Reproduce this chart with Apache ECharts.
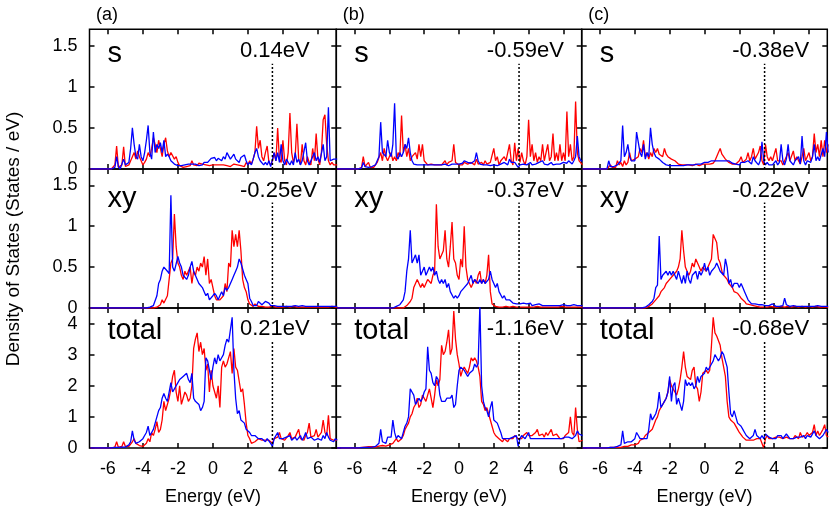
<!DOCTYPE html>
<html><head><meta charset="utf-8">
<script src="https://cdn.jsdelivr.net/npm/echarts@6/dist/echarts.min.js"></script>
<style>html,body{margin:0;padding:0;background:#fff}#c{width:830px;height:510px}</style>
</head><body><div id="c"></div>
<script>
// Energy grid of every series: starts at E_START, one value per E_STEP
const E_START = -7.0, E_STEP = 0.1;
const columnLabels = ['(a)', '(b)', '(c)'];
const rowLabels = ['s', 'xy', 'total'];
const shiftLabels = [
  ['0.14eV', '-0.25eV', '0.21eV'],
  ['-0.59eV', '-0.37eV', '-1.16eV'],
  ['-0.38eV', '-0.22eV', '-0.68eV']
];
const fermiEnergy = [3.4, 3.45, 3.45];
const fermiTop = [1.28, 1.29, 3.42];
const xTicks = [-6, -4, -2, 0, 2, 4, 6];
const yTicksOrbital = [0, 0.5, 1, 1.5];
const yTicksTotal = [0, 1, 2, 3, 4];
const yMax = [1.7, 1.7, 4.5];
const xMin = -7.05, xMax = 7.05;

// ---- column (a) ----
const sRedA = [
0,0,0,0,0,0,0,0,0,0,
0,0,0,0,0.05,0.28,0.02,0,0.05,0.27,
0.03,0.02,0.05,0.1,0.15,0.2,0.12,0.22,0.15,0.1,
0.05,0.08,0.12,0.2,0.15,0.25,0.38,0.3,0.2,0.35,
0.25,0.15,0.3,0.38,0.22,0.15,0.2,0.2,0.12,0.15,
0.08,0.04,0.03,0.02,0.04,0.03,0.05,0.04,0.1,0.05,
0.06,0.04,0.07,0.05,0.06,0.04,0.05,0.06,0.04,0.03,
0.05,0.04,0.05,0.06,0.05,0.04,0.05,0.03,0.04,0.05,
0.03,0.04,0.06,0.04,0.05,0.07,0.04,0.05,0.03,0.08,
0.05,0.1,0.06,0.12,0.2,0.52,0.25,0.35,0.15,0.1,
0.2,0.28,0.08,0.05,0.1,0.2,0.1,0.5,0.12,0.08,
0.35,0.1,0.05,0.2,0.68,0.2,0.08,0.15,0.55,0.12,
0.05,0.3,0.1,0.05,0.15,0.08,0.05,0.25,0.1,0.43,
0.12,0.05,0.2,0.6,0.66,0.3,0.1,0.05,0.08,0.05,
0.06,0.05];
const sBlueA = [
0,0,0,0,0,0,0,0,0,0,
0,0,0,0,0.02,0.15,0.03,0,0.02,0.12,
0.05,0.03,0.08,0.25,0.5,0.3,0.15,0.12,0.3,0.15,
0.1,0.2,0.35,0.53,0.2,0.12,0.45,0.2,0.3,0.25,
0.32,0.2,0.35,0.15,0.18,0.15,0.1,0.08,0.06,0.05,
0.04,0.05,0.04,0.05,0.05,0.04,0.06,0.05,0.06,0.05,
0.06,0.05,0.04,0.06,0.05,0.08,0.1,0.08,0.1,0.13,
0.12,0.14,0.1,0.13,0.12,0.1,0.15,0.12,0.2,0.16,
0.12,0.15,0.18,0.12,0.1,0.08,0.14,0.12,0.17,0.1,
0.05,0.08,0.05,0.12,0.2,0.25,0.15,0.1,0.12,0.05,
0.08,0.05,0.1,0.03,0.02,0.2,0.1,0.2,0.08,0.3,
0.1,0.05,0.12,0.08,0.05,0.1,0.05,0.2,0.08,0.12,
0.05,0.1,0.08,0.32,0.1,0.05,0.1,0.08,0.2,0.1,
0.15,0.08,0.1,0.3,0.1,0.15,0.75,0.1,0.08,0.12,
0.1,0.12];
const xyRedA = [
0,0,0,0,0,0,0,0,0,0,
0,0,0,0,0,0,0,0,0,0,
0,0,0,0,0,0,0,0,0,0,
0,0,0,0,0,0,0,0,0.01,0.02,
0.04,0.1,0.06,0.08,0.15,0.35,0.55,0.6,1.15,0.75,
0.55,0.5,0.4,0.35,0.45,0.4,0.42,0.5,0.3,0.45,
0.4,0.5,0.45,0.55,0.5,0.63,0.4,0.6,0.3,0.35,
0.25,0.15,0.1,0.08,0.1,0.12,0.15,0.3,0.2,0.55,
0.5,0.95,0.75,0.9,0.75,0.95,0.7,0.35,0.25,0.2,
0.1,0.05,0.03,0.02,0.05,0.03,0.02,0.03,0.02,0.01,
0.01,0.02,0.01,0.01,0.02,0.01,0.01,0.02,0.01,0.01,
0.01,0.01,0.02,0.01,0.01,0.01,0.02,0.01,0.01,0.01,
0.01,0.02,0.01,0.01,0.01,0.02,0.01,0.01,0.01,0.02,
0.01,0.01,0.01,0.02,0.01,0.01,0.01,0.01,0.02,0.01,
0.01,0.01];
const xyBlueA = [
0,0,0,0,0,0,0,0,0,0,
0,0,0,0,0,0,0,0,0,0,
0,0,0,0,0,0,0,0,0,0,
0,0,0,0,0.01,0.02,0.03,0.05,0.15,0.3,
0.35,0.45,0.5,0.48,0.45,0.42,1.38,0.5,0.45,0.45,
0.63,0.55,0.5,0.4,0.4,0.35,0.4,0.5,0.57,0.45,
0.45,0.35,0.3,0.3,0.25,0.2,0.15,0.18,0.1,0.12,
0.15,0.18,0.15,0.1,0.12,0.2,0.15,0.25,0.22,0.25,
0.3,0.35,0.4,0.45,0.5,0.6,0.55,0.55,0.4,0.35,
0.3,0.12,0.08,0.03,0.05,0.03,0.08,0.06,0.04,0.05,
0.08,0.1,0.06,0.03,0.02,0.03,0.05,0.02,0.04,0.02,
0.03,0.02,0.04,0.02,0.03,0.02,0.02,0.03,0.02,0.02,
0.02,0.03,0.02,0.02,0.03,0.02,0.02,0.02,0.03,0.02,
0.02,0.02,0.03,0.02,0.02,0.02,0.03,0.02,0.02,0.02,
0.02,0.02];
const totRedA = [
0,0,0,0,0,0,0,0,0,0,
0,0,0,0,0.03,0.2,0.02,0.03,0.05,0.2,
0.05,0.03,0.05,0.1,0.2,0.3,0.15,0.1,0.08,0.05,
0.05,0.1,0.15,0.3,0.2,0.5,0.4,0.6,0.85,0.5,
0.6,0.9,1.5,1.2,1.4,1.6,1.9,2.3,2.5,1.8,
1.5,2.0,1.4,1.6,1.8,1.7,1.5,1.6,2.0,3.2,
3.5,3.7,3.1,3.4,3.0,3.2,2.5,2.7,1.8,2.5,
2.0,1.8,1.6,2.0,1.3,2.6,2.8,2.6,2.7,2.7,
3.1,2.4,3.2,2.6,2.5,2.5,1.8,1.9,1.4,0.8,
0.4,0.3,0.15,0.2,0.2,0.25,0.3,0.35,0.25,0.2,
0.25,0.3,0.25,0.2,0.15,0.3,0.25,0.35,0.5,0.3,
0.35,0.25,0.3,0.4,0.5,0.3,0.25,0.35,0.3,0.6,
0.3,0.35,0.25,0.4,0.5,0.8,0.35,0.3,0.4,0.6,
0.35,0.3,0.5,0.9,0.5,0.4,1.05,0.3,0.35,0.25,
0.3,0.25];
const totBlueA = [
0,0,0,0,0,0,0,0,0,0,
0,0,0,0,0.02,0.05,0.02,0.01,0.03,0.05,
0.03,0.05,0.1,0.2,0.55,0.25,0.15,0.2,0.2,0.25,
0.3,0.4,0.5,0.7,0.4,0.5,0.6,0.8,1.0,1.2,
1.3,1.6,1.75,1.6,1.5,1.8,2.1,1.8,1.9,2.0,
2.1,2.2,2.2,2.3,2.3,2.4,2.2,2.1,2.4,1.6,
1.5,1.5,1.4,1.2,1.3,1.5,2.9,2.8,2.5,2.2,
2.6,2.9,2.7,3.0,2.8,2.9,3.0,3.3,3.5,3.4,
3.8,4.2,2.5,1.6,1.1,1.2,0.9,0.9,0.8,0.6,
0.6,0.5,0.4,0.35,0.4,0.35,0.3,0.35,0.3,0.25,
0.2,0.3,0.25,0.15,0.05,0.3,0.25,0.5,0.3,0.35,
0.3,0.25,0.35,0.3,0.4,0.25,0.3,0.35,0.25,0.3,
0.4,0.25,0.35,0.5,0.3,0.25,0.35,0.3,0.25,0.3,
0.3,0.35,0.25,0.4,0.3,0.5,0.35,0.25,0.3,0.2,
0.3,0.25];

// ---- column (b) ----
const sRedB = [
0,0,0,0,0,0,0,0,0,0,
0,0,0,0,0.02,0.15,0.03,0.02,0.08,0.02,
0.03,0.02,0.05,0.08,0.1,0.2,0.1,0.25,0.15,0.1,
0.12,0.2,0.1,0.15,0.1,0.2,0.15,0.65,0.2,0.3,
0.15,0.25,0.1,0.15,0.15,0.2,0.12,0.3,0.15,0.3,
0.1,0.1,0.05,0.05,0.06,0.04,0.05,0.07,0.05,0.04,
0.05,0.06,0.1,0.05,0.08,0.06,0.1,0.3,0.08,0.1,
0.05,0.06,0.05,0.08,0.1,0.06,0.05,0.08,0.06,0.05,
0.12,0.06,0.05,0.08,0.05,0.1,0.06,0.05,0.08,0.06,
0.25,0.1,0.15,0.05,0.1,0.08,0.15,0.1,0.12,0.3,
0.1,0.05,0.32,0.1,0.25,0.08,0.2,0.1,0.05,0.15,
0.6,0.15,0.3,0.1,0.2,0.08,0.15,0.1,0.3,0.1,
0.08,0.3,0.1,0.15,0.43,0.1,0.2,0.1,0.3,0.1,
0.2,0.1,0.7,0.15,0.3,0.1,0.15,0.82,0.2,0.1,
0.1,0.05];
const sBlueB = [
0,0,0,0,0,0,0,0,0,0,
0,0,0,0,0.01,0.08,0.03,0.01,0.02,0.03,
0.03,0.02,0.05,0.1,0.15,0.57,0.2,0.2,0.15,0.35,
0.2,0.15,0.3,0.8,0.15,0.12,0.2,0.15,0.2,0.3,
0.25,0.38,0.2,0.1,0.06,0.05,0.05,0.04,0.05,0.06,
0.05,0.04,0.05,0.04,0.05,0.04,0.05,0.06,0.05,0.04,
0.05,0.04,0.06,0.05,0.04,0.05,0.06,0.05,0.06,0.07,
0.06,0.08,0.07,0.1,0.12,0.08,0.06,0.07,0.06,0.1,
0.2,0.1,0.06,0.05,0.05,0.06,0.05,0.05,0.04,0.05,
0.05,0.06,0.04,0.05,0.06,0.05,0.08,0.06,0.05,0.12,
0.08,0.06,0.08,0.1,0.02,0.05,0.05,0.06,0.07,0.05,
0.06,0.08,0.05,0.07,0.06,0.05,0.08,0.06,0.1,0.06,
0.07,0.05,0.06,0.08,0.05,0.07,0.06,0.08,0.06,0.07,
0.08,0.06,0.07,0.1,0.08,0.06,0.1,0.15,0.4,0.15,
0.1,0.1];
const xyRedB = [
0,0,0,0,0,0,0,0,0,0,
0,0,0,0,0,0,0,0,0,0,
0,0,0,0,0,0,0,0,0,0,
0,0,0,0,0,0,0,0,0,0.02,
0.03,0.05,0.08,0.12,0.25,0.25,0.35,0.3,0.25,0.3,
0.25,0.25,0.35,0.35,0.3,0.4,0.45,1.27,0.75,0.6,
0.6,0.7,0.95,0.6,0.5,0.75,1.05,0.6,0.55,0.4,
0.35,0.6,0.5,1.0,0.5,0.35,0.3,0.25,0.3,0.35,
0.3,0.4,0.45,0.3,0.35,0.3,0.4,0.65,0.2,0.05,
0.03,0.02,0.02,0.01,0.02,0.01,0.01,0.02,0.01,0.01,
0.01,0.02,0.01,0.01,0.02,0.01,0.01,0.01,0.02,0.01,
0.01,0.01,0.02,0.01,0.01,0.02,0.01,0.01,0.01,0.01,
0.02,0.01,0.01,0.01,0.02,0.01,0.01,0.01,0.01,0.02,
0.01,0.01,0.02,0.01,0.01,0.01,0.02,0.01,0.01,0.01,
0.01,0.01];
const xyBlueB = [
0,0,0,0,0,0,0,0,0,0,
0,0,0,0,0,0,0,0,0,0,
0,0,0,0,0,0,0,0,0,0,
0,0,0,0.01,0.02,0.03,0.04,0.05,0.1,0.2,
0.45,0.6,0.95,0.55,0.6,0.65,0.55,0.65,0.4,0.45,
0.5,0.4,0.45,0.5,0.45,0.5,0.4,0.45,0.35,0.3,
0.35,0.3,0.35,0.25,0.3,0.2,0.2,0.12,0.15,0.12,
0.15,0.2,0.2,0.25,0.25,0.3,0.3,0.4,0.3,0.35,
0.35,0.3,0.35,0.3,0.35,0.3,0.3,0.35,0.45,0.35,
0.3,0.25,0.3,0.2,0.2,0.12,0.15,0.1,0.08,0.1,
0.1,0.06,0.08,0.05,0.04,0.05,0.04,0.06,0.04,0.05,
0.04,0.06,0.03,0.05,0.04,0.03,0.05,0.04,0.03,0.04,
0.03,0.04,0.03,0.05,0.03,0.04,0.03,0.04,0.03,0.03,
0.04,0.03,0.03,0.04,0.03,0.03,0.04,0.03,0.03,0.03,
0.03,0.03];
const totRedB = [
0,0,0,0,0,0,0,0,0,0,
0,0,0,0,0.02,0.05,0.03,0.02,0.04,0.05,
0.04,0.05,0.03,0.05,0.06,0.05,0.08,0.05,0.06,0.05,
0.1,0.05,0.15,0.2,0.3,0.2,0.25,0.3,0.4,0.6,
0.7,0.8,1.0,1.1,1.3,1.4,1.6,1.3,1.4,1.7,
1.6,1.5,1.7,1.9,1.6,1.3,1.7,2.2,2.0,2.2,
3.3,3.0,3.1,3.4,3.8,3.0,3.2,4.4,3.5,3.0,
2.7,2.3,2.5,2.6,2.5,2.4,2.6,2.9,2.8,2.9,
2.8,2.6,2.3,1.5,1.4,1.2,1.3,1.1,0.9,0.7,
0.5,0.4,0.35,0.3,0.25,0.2,0.3,0.25,0.2,0.3,
0.25,0.3,0.4,0.35,0.3,0.35,0.3,0.4,0.35,0.5,
0.4,0.35,0.4,0.35,0.5,0.6,0.4,0.35,0.45,0.35,
0.5,0.4,0.35,0.6,0.4,0.35,0.45,0.4,0.3,0.35,
0.3,0.4,0.35,0.5,1.0,0.5,0.4,1.3,0.6,0.2,
0.2,0.25];
const totBlueB = [
0,0,0,0,0,0,0,0,0,0,
0,0,0,0,0.01,0.02,0.02,0.01,0.02,0.03,
0.03,0.02,0.05,0.1,0.15,0.6,0.2,0.25,0.15,0.35,
0.3,0.35,0.9,0.5,0.3,0.4,0.45,0.3,0.5,0.7,
0.8,1.0,1.9,1.8,1.7,1.4,1.5,1.6,1.5,1.6,
1.8,1.9,3.25,2.5,2.4,2.1,2.0,2.3,2.2,1.7,
1.5,1.55,1.5,1.6,1.65,1.6,1.7,1.3,1.4,2.0,
2.5,2.6,2.55,2.5,2.4,2.3,2.4,2.4,2.5,2.7,
2.6,2.7,4.6,2.0,1.5,1.3,1.2,1.0,1.3,1.5,
0.9,0.85,0.8,0.8,0.5,0.3,0.35,0.3,0.25,0.3,
0.3,0.35,0.3,0.4,0.05,0.3,0.4,0.35,0.3,0.4,
0.5,0.3,0.35,0.3,0.25,0.3,0.35,0.3,0.25,0.3,
0.35,0.3,0.25,0.3,0.35,0.3,0.25,0.3,0.35,0.3,
0.3,0.35,0.3,0.35,0.4,0.3,0.35,0.4,0.55,0.45,
0.5,0.4];

// ---- column (c) ----
const sRedC = [
0,0,0,0,0,0,0,0,0,0,
0,0,0,0,0,0,0.05,0.02,0.03,0.02,
0.1,0.05,0.08,0.03,0.1,0.05,0.08,0.2,0.1,0.08,
0.12,0.1,0.15,0.25,0.2,0.35,0.15,0.2,0.12,0.2,
0.15,0.25,0.2,0.25,0.18,0.2,0.15,0.25,0.18,0.15,
0.15,0.12,0.1,0.1,0.08,0.06,0.05,0.05,0.04,0.05,
0.04,0.05,0.05,0.04,0.05,0.06,0.05,0.04,0.05,0.06,
0.05,0.06,0.07,0.06,0.08,0.07,0.1,0.12,0.2,0.25,
0.18,0.15,0.12,0.1,0.08,0.07,0.06,0.05,0.06,0.08,
0.1,0.15,0.08,0.1,0.12,0.2,0.1,0.15,0.25,0.12,
0.1,0.2,0.28,0.1,0.05,0.3,0.15,0.1,0.15,0.1,
0.1,0.25,0.1,0.08,0.1,0.05,0.1,0.12,0.2,0.1,
0.08,0.22,0.1,0.15,0.1,0.06,0.15,0.25,0.1,0.15,
0.2,0.1,0.15,0.43,0.2,0.3,0.15,0.35,0.15,0.35,
0.2,0.3];
const sBlueC = [
0,0,0,0,0,0,0,0,0,0,
0,0,0,0,0,0.1,0.03,0.02,0.03,0.02,
0.05,0.03,0.1,0.53,0.15,0.2,0.3,0.15,0.1,0.08,
0.1,0.45,0.45,0.2,0.15,0.3,0.12,0.2,0.15,0.5,
0.3,0.2,0.15,0.15,0.12,0.1,0.08,0.06,0.05,0.05,
0.04,0.05,0.04,0.05,0.04,0.05,0.04,0.05,0.04,0.05,
0.05,0.04,0.05,0.06,0.05,0.05,0.06,0.05,0.06,0.07,
0.08,0.07,0.08,0.09,0.1,0.08,0.1,0.09,0.1,0.1,
0.1,0.08,0.1,0.09,0.1,0.08,0.07,0.05,0.06,0.07,
0.05,0.08,0.06,0.08,0.07,0.1,0.08,0.06,0.15,0.1,
0.08,0.05,0.1,0.33,0.1,0.05,0.08,0.05,0.06,0.05,
0.05,0.1,0.05,0.08,0.3,0.1,0.05,0.12,0.3,0.1,
0.08,0.05,0.1,0.08,0.15,0.06,0.4,0.1,0.05,0.1,
0.12,0.08,0.15,0.3,0.1,0.15,0.1,0.08,0.25,0.15,
0.45,0.2];
const xyRedC = [
0,0,0,0,0,0,0,0,0,0,
0,0,0,0,0,0,0,0,0,0,
0,0,0,0,0,0,0,0,0,0,
0,0,0,0,0,0,0,0.01,0.02,0.03,
0.05,0.06,0.1,0.12,0.15,0.2,0.22,0.25,0.3,0.3,
0.35,0.35,0.4,0.4,0.45,0.5,0.6,0.95,0.7,0.5,
0.45,0.4,0.45,0.55,0.5,0.6,0.55,0.5,0.45,0.5,
0.5,0.45,0.5,0.5,0.6,0.9,0.85,0.8,0.6,0.55,
0.45,0.4,0.4,0.35,0.3,0.3,0.25,0.2,0.2,0.18,
0.15,0.12,0.1,0.08,0.05,0.04,0.04,0.03,0.03,0.03,
0.02,0.02,0.01,0.02,0.01,0.02,0.01,0.01,0.02,0.01,
0.01,0.02,0.01,0.01,0.02,0.01,0.01,0.01,0.02,0.01,
0.01,0.01,0.02,0.01,0.01,0.01,0.02,0.01,0.01,0.01,
0.02,0.01,0.01,0.01,0.02,0.01,0.01,0.01,0.01,0.02,
0.01,0.01];
const xyBlueC = [
0,0,0,0,0,0,0,0,0,0,
0,0,0,0,0,0,0,0,0,0,
0,0,0,0,0,0,0,0,0,0,
0,0,0,0,0,0,0.01,0.02,0.04,0.05,
0.08,0.12,0.25,0.28,0.88,0.35,0.4,0.4,0.45,0.4,
0.45,0.4,0.45,0.4,0.35,0.45,0.45,0.3,0.4,0.3,
0.45,0.35,0.3,0.4,0.4,0.45,0.35,0.45,0.4,0.45,
0.55,0.45,0.5,0.4,0.45,0.45,0.5,0.55,0.5,0.45,
0.45,0.4,0.6,0.5,0.3,0.35,0.25,0.3,0.3,0.3,
0.25,0.3,0.25,0.2,0.15,0.1,0.08,0.05,0.06,0.05,
0.05,0.04,0.03,0.04,0.03,0.03,0.04,0.03,0.03,0.05,
0.03,0.02,0.03,0.02,0.04,0.03,0.12,0.04,0.02,0.02,
0.02,0.03,0.02,0.02,0.03,0.02,0.02,0.02,0.03,0.02,
0.02,0.02,0.03,0.02,0.02,0.03,0.02,0.02,0.02,0.02,
0.02,0.02];
const totRedC = [
0,0,0,0,0,0,0,0,0,0,
0,0,0,0,0,0,0.02,0.03,0.02,0.03,
0.02,0.03,0.02,0.04,0.05,0.06,0.05,0.08,0.1,0.08,
0.1,0.12,0.15,0.25,0.2,0.3,0.4,0.45,0.5,0.55,
0.6,0.75,0.9,1.0,1.2,1.3,1.4,1.5,1.6,1.8,
2.2,2.0,1.9,1.8,1.7,1.9,2.2,2.6,3.1,2.6,
2.3,2.3,2.2,2.5,2.6,2.0,1.9,1.5,1.8,2.4,
2.4,2.5,2.4,2.5,3.3,4.2,3.7,3.6,3.6,3.3,
2.9,2.6,2.3,1.5,1.0,0.9,0.85,0.8,0.75,0.6,
0.5,0.45,0.35,0.3,0.25,0.2,0.25,0.3,0.25,0.3,
0.3,0.35,0.3,0.35,0.0,0.3,0.4,0.3,0.35,0.3,
0.3,0.35,0.3,0.35,0.35,0.3,0.3,0.35,0.3,0.3,
0.35,0.3,0.4,0.35,0.3,0.5,0.35,0.3,0.4,0.5,
0.4,0.35,0.5,0.75,0.4,0.55,0.4,0.5,0.6,0.75,
0.4,0.35];
const totBlueC = [
0,0,0,0,0,0,0,0,0,0,
0,0,0,0,0,0.05,0.02,0.03,0.02,0.03,
0.05,0.03,0.1,0.55,0.15,0.2,0.2,0.15,0.2,0.25,
0.3,0.5,0.4,0.3,0.35,0.3,0.35,0.3,0.6,1.1,
0.9,1.0,1.1,1.3,1.8,1.3,1.3,1.5,1.6,1.8,
2.3,1.5,2.0,2.1,1.4,1.6,1.4,1.2,1.5,2.2,
2.0,2.1,2.0,2.1,1.9,2.0,2.3,2.1,2.3,2.3,
2.4,2.6,2.5,2.5,2.7,2.8,3.0,2.9,2.8,2.9,
3.1,3.0,3.0,2.6,1.8,1.1,1.0,1.2,1.0,0.8,
0.8,0.7,0.6,0.5,0.4,0.35,0.3,0.35,0.4,0.6,
0.4,0.35,0.3,0.4,0.3,0.45,0.4,0.35,0.3,0.3,
0.35,0.3,0.4,0.35,0.4,0.3,0.35,0.45,0.45,0.3,
0.35,0.3,0.3,0.35,0.4,0.35,0.35,0.4,0.3,0.4,
0.45,0.35,0.4,0.55,0.4,0.35,0.3,0.3,0.4,0.5,
0.6,0.5];

const panels = [
  [[sRedA, sBlueA], [xyRedA, xyBlueA], [totRedA, totBlueA]],
  [[sRedB, sBlueB], [xyRedB, xyBlueB], [totRedB, totBlueB]],
  [[sRedC, sBlueC], [xyRedC, xyBlueC], [totRedC, totBlueC]]
];

// ---- layout (pixels) ----
const FONT = '"Liberation Sans", Arial, Helvetica, sans-serif';
const GL = [89.5, 336.3, 581.7], GW = [246.8, 245.4, 245.6];
const GT = [29.3, 169, 308], GH = [139.7, 139, 140];
const rowLabelY = [54, 199, 331];
const shiftLabelY = [51, 190.5, 328.5];

const toPts = arr => arr.map((v, i) => [+(E_START + i * E_STEP).toFixed(2), v]);
const grid = [], xAxis = [], yAxis = [], series = [], graphic = [];
const tick = { show: true, inside: true, length: 5, lineStyle: { color: '#000', width: 1.5 } };
const noLine = { show: false, onZero: false };
let gi = 0;
for (let c = 0; c < 3; c++) {
  for (let r = 0; r < 3; r++) {
    grid.push({ left: GL[c], top: GT[r], width: GW[c], height: GH[r], show: true,
      borderColor: '#000', borderWidth: 1.5, backgroundColor: 'transparent' });
    xAxis.push({ type: 'value', gridIndex: gi, position: 'bottom', min: xMin, max: xMax,
      axisLine: noLine, splitLine: { show: false },
      axisTick: Object.assign({}, tick, { customValues: xTicks }),
      axisLabel: { show: r === 2, customValues: xTicks, margin: 12, color: '#000', fontSize: 18, fontFamily: FONT } });
    xAxis.push({ type: 'value', gridIndex: gi, position: 'top', min: xMin, max: xMax,
      axisLine: noLine, splitLine: { show: false },
      axisTick: Object.assign({}, tick, { customValues: xTicks }), axisLabel: { show: false } });
    const yt = r === 2 ? yTicksTotal : yTicksOrbital;
    yAxis.push({ type: 'value', gridIndex: gi, position: 'left', min: 0, max: yMax[r],
      axisLine: noLine, splitLine: { show: false },
      axisTick: Object.assign({}, tick, { customValues: yt }),
      axisLabel: { show: c === 0, customValues: yt, margin: 12, color: '#000', fontSize: 18, fontFamily: FONT } });
    yAxis.push({ type: 'value', gridIndex: gi, position: 'right', min: 0, max: yMax[r],
      axisLine: noLine, splitLine: { show: false },
      axisTick: Object.assign({}, tick, { customValues: yt }), axisLabel: { show: false } });
    const [red, blue] = panels[c][r];
    series.push({ type: 'line', xAxisIndex: 2 * gi, yAxisIndex: 2 * gi, data: toPts(red),
      showSymbol: false, symbol: 'none', lineStyle: { color: '#ff0000', width: 1.3 }, itemStyle: { color: '#ff0000' }, z: 2 });
    series.push({ type: 'line', xAxisIndex: 2 * gi, yAxisIndex: 2 * gi, data: toPts(blue),
      showSymbol: false, symbol: 'none', lineStyle: { color: '#0000ff', width: 1.3 }, itemStyle: { color: '#0000ff' }, z: 3 });
    series.push({ type: 'line', xAxisIndex: 2 * gi, yAxisIndex: 2 * gi,
      data: [[fermiEnergy[c], 0], [fermiEnergy[c], fermiTop[r]]],
      showSymbol: false, symbol: 'none', lineStyle: { color: '#000', width: 1.5, type: [2, 2] }, z: 4 });
    graphic.push({ type: 'text', x: GL[c] + 18, y: rowLabelY[r],
      style: { text: rowLabels[r], font: '29px ' + FONT, fill: '#000', textAlign: 'left', textVerticalAlign: 'middle' } });
    graphic.push({ type: 'text', x: GL[c] + 150.5, y: shiftLabelY[r],
      style: { text: shiftLabels[c][r], font: '22px ' + FONT, fill: '#000', textAlign: 'left', textVerticalAlign: 'middle' } });
    gi++;
  }
  graphic.push({ type: 'text', x: GL[c] + 6.5, y: 15,
    style: { text: columnLabels[c], font: '18px ' + FONT, fill: '#000', textAlign: 'left', textVerticalAlign: 'middle' } });
  graphic.push({ type: 'text', x: GL[c] + GW[c] / 2, y: 497,
    style: { text: 'Energy (eV)', font: '18px ' + FONT, fill: '#000', textAlign: 'center', textVerticalAlign: 'middle' } });
}
graphic.push({ type: 'text', x: 14, y: 239, rotation: Math.PI / 2,
  style: { text: 'Density of States (States / eV)', font: '19px ' + FONT, fill: '#000', textAlign: 'center', textVerticalAlign: 'middle' } });

const chart = echarts.init(document.getElementById('c'), null, { renderer: 'canvas' });
chart.setOption({ animation: false, backgroundColor: '#fff', grid, xAxis, yAxis, series, graphic });
</script>
</body></html>
